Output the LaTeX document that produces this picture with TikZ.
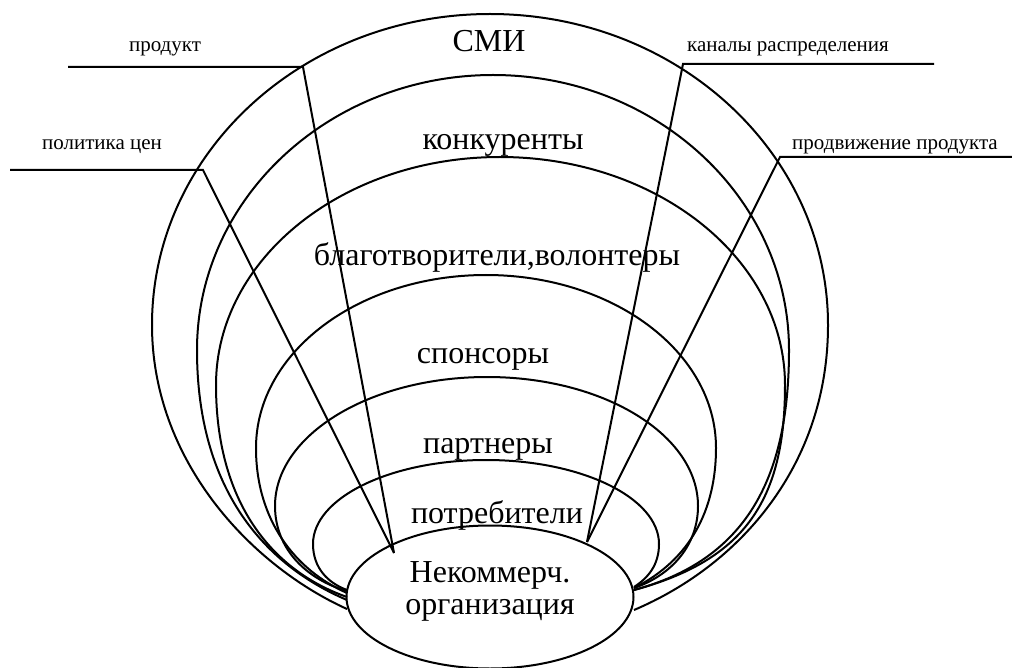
\documentclass[tikz,border=0pt]{standalone}
\usepackage{fontspec}
\setmainfont{Liberation Serif}
\usetikzlibrary{shapes.geometric}

\begin{document}
\begin{tikzpicture}[x=0.5pt, y=-0.5pt, line width=1pt,
		small/.style={font=\fontsize{10.5}{12}\selectfont, anchor=base},
		big/.style={font=\fontsize{16}{16}\selectfont, anchor=base},
		org/.style={draw, ellipse, minimum width=143.5pt, minimum height=71.5pt, inner sep=0pt}]
			\useasboundingbox (0,0) rectangle (1012,668);
	
			% rings, outer to inner
			\draw (347,609) .. controls (250,565) and (152,460) .. (152,325)
				.. controls (152,153) and (303,14) .. (490,14)
				.. controls (677,14) and (828,153) .. (828,325)
				.. controls (828,465) and (740,565) .. (634,610);
			\draw (347,600) .. controls (265,565) and (197,490) .. (197,350)
				.. controls (197,198) and (330,75) .. (493,75)
				.. controls (656,75) and (789,198) .. (789,350)
				.. controls (789,480) and (745,560) .. (634,590);
			\draw (347,597) .. controls (270,570) and (216,500) .. (216,385)
				.. controls (216,259) and (343,157) .. (500,157)
				.. controls (657,157) and (785,259) .. (785,385)
				.. controls (785,500) and (745,560) .. (634,590);
			\draw (347,593) .. controls (295,570) and (256,520) .. (256,448)
				.. controls (256,352) and (359,275) .. (486,275)
				.. controls (613,275) and (716,352) .. (716,448)
				.. controls (716,510) and (690,560) .. (634,588);
			\draw (347,591) .. controls (308,580) and (275,550) .. (275,506)
				.. controls (275,435) and (370,377) .. (487,377)
				.. controls (604,377) and (698,435) .. (698,506)
				.. controls (698,545) and (672,575) .. (634,588);
			\draw (347,590) .. controls (328,583) and (313,568) .. (313,544)
				.. controls (313,498) and (390,460) .. (486,460)
				.. controls (582,460) and (659,498) .. (659,544)
				.. controls (659,565) and (648,578) .. (634,587);
	
			% centre
			\node[org] (org) at (490,597) {};
	
			% ring labels
			\node[big] (smi) at (489,52) {СМИ};
			\node[big] (konk) at (503,150) {конкуренты};
			\node[big] (blag) at (497,266) {благотворители,волонтеры};
			\node[big] (spons) at (483,364) {спонсоры};
			\node[big] (partn) at (488,453) {партнеры};
			\node[big] (potr) at (497,523) {потребители};
			\node[big] (orgA) at (490,582) {Некоммерч.};
			\node[big] (orgB) at (490,614) {организация};
	
			% leader lines
			\coordinate (prodA) at (68,67);
			\coordinate (prodB) at (303,67);
			\coordinate (polA) at (10,170);
			\coordinate (polB) at (203,170);
			\coordinate (kanA) at (934,64);
			\coordinate (kanB) at (683,64);
			\coordinate (prodvA) at (1012,157);
			\coordinate (prodvB) at (780,157);
			\coordinate (tipL) at (394,553);
			\coordinate (tipR) at (587,542);
			\draw (prodA) -- (prodB) -- (tipL);
			\draw (polA) -- (polB) -- (tipL);
			\draw (kanA) -- (kanB) -- (tipR);
			\draw (prodvA) -- (prodvB) -- (tipR);
			\node[small] (prod) at (165,52) {продукт};
			\node[small] (pol) at (102,150) {политика цен};
			\node[small] (kan) at (788,52) {каналы распределения};
			\node[small] (prodv) at (895,150) {продвижение продукта};
		\end{tikzpicture}
\end{document}
